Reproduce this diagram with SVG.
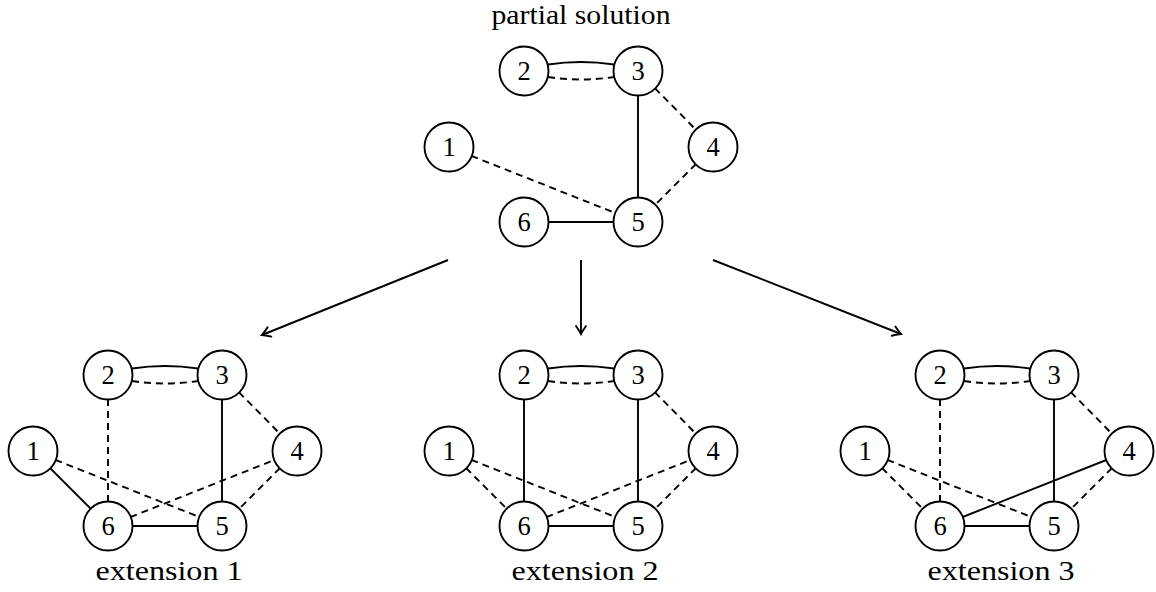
<svg xmlns="http://www.w3.org/2000/svg" width="1156" height="592" viewBox="0 0 1156 592">
<style>
.bg{fill:#fff}
.n circle{fill:#fff;stroke:#000;stroke-width:1.9}
.n text{font-family:"Liberation Serif","DejaVu Serif",serif;font-size:26.5px;fill:#000;text-anchor:middle}
.lbl{font-family:"Liberation Serif","DejaVu Serif",serif;font-size:27px;fill:#000;text-anchor:middle}
.s{stroke:#000;stroke-width:1.9;fill:none}
.d{stroke:#000;stroke-width:1.9;fill:none;stroke-dasharray:7 5}
.arr{stroke:#000;stroke-width:1.9;fill:none;marker-end:url(#ah)}
</style>
<defs>
<marker id="ah" markerUnits="userSpaceOnUse" markerWidth="16" markerHeight="16" viewBox="-10 -8 12 16" refX="0" refY="0" orient="auto">
<path d="M-8,-5 Q-2.5,-1.2 0,0 Q-2.5,1.2 -8,5" fill="none" stroke="#000" stroke-width="1.9" stroke-linecap="round"/>
</marker>
</defs>
<rect class="bg" x="0" y="0" width="1156" height="592"/>

<text class="lbl" x="581" y="24" textLength="179" lengthAdjust="spacingAndGlyphs">partial solution</text>
<text class="lbl" x="169" y="580" textLength="147" lengthAdjust="spacingAndGlyphs">extension 1</text>
<text class="lbl" x="585" y="580" textLength="147" lengthAdjust="spacingAndGlyphs">extension 2</text>
<text class="lbl" x="1001" y="580" textLength="147" lengthAdjust="spacingAndGlyphs">extension 3</text>

<g id="arrows">
<line class="arr" x1="448" y1="260" x2="262" y2="335"/>
<line class="arr" x1="581" y1="260" x2="581" y2="334"/>
<line class="arr" x1="713" y1="260" x2="901" y2="334"/>
</g>

<!-- partial solution -->
<g id="partial">
<g id="partial-edges">
<path class="s" d="M548,64.5 Q581,59.5 614,64.5"/>
<path class="d" d="M548,77 Q581,82 614,77"/>
<line class="s" x1="638" y1="71" x2="638" y2="222"/>
<line class="d" x1="638" y1="71" x2="713" y2="147"/>
<line class="d" x1="713" y1="147" x2="638" y2="222"/>
<line class="d" x1="449" y1="147" x2="638" y2="222"/>
<line class="s" x1="524" y1="222" x2="638" y2="222"/>
</g>
<g id="p-n1" class="n"><circle cx="449" cy="147" r="24.5"/><text x="449" y="156">1</text></g>
<g id="p-n2" class="n"><circle cx="524" cy="71" r="24.5"/><text x="524" y="80">2</text></g>
<g id="p-n3" class="n"><circle cx="638" cy="71" r="24.5"/><text x="638" y="80">3</text></g>
<g id="p-n4" class="n"><circle cx="713" cy="147" r="24.5"/><text x="713" y="156">4</text></g>
<g id="p-n5" class="n"><circle cx="638" cy="222" r="24.5"/><text x="638" y="231">5</text></g>
<g id="p-n6" class="n"><circle cx="524" cy="222" r="24.5"/><text x="524" y="231">6</text></g>
</g>

<!-- extension 1 -->
<g id="ext1" transform="translate(-416,304)">
<g id="ext1-edges">
<path class="s" d="M548,64.5 Q581,59.5 614,64.5"/>
<path class="d" d="M548,77 Q581,82 614,77"/>
<line class="d" x1="524" y1="71" x2="524" y2="222"/>
<line class="s" x1="638" y1="71" x2="638" y2="222"/>
<line class="d" x1="638" y1="71" x2="713" y2="147"/>
<line class="d" x1="713" y1="147" x2="638" y2="222"/>
<line class="d" x1="449" y1="147" x2="638" y2="222"/>
<line class="s" x1="449" y1="147" x2="524" y2="222"/>
<line class="d" x1="524" y1="222" x2="713" y2="147"/>
<line class="s" x1="524" y1="222" x2="638" y2="222"/>
</g>
<g id="e1-n1" class="n"><circle cx="449" cy="147" r="24.5"/><text x="449" y="156">1</text></g>
<g id="e1-n2" class="n"><circle cx="524" cy="71" r="24.5"/><text x="524" y="80">2</text></g>
<g id="e1-n3" class="n"><circle cx="638" cy="71" r="24.5"/><text x="638" y="80">3</text></g>
<g id="e1-n4" class="n"><circle cx="713" cy="147" r="24.5"/><text x="713" y="156">4</text></g>
<g id="e1-n5" class="n"><circle cx="638" cy="222" r="24.5"/><text x="638" y="231">5</text></g>
<g id="e1-n6" class="n"><circle cx="524" cy="222" r="24.5"/><text x="524" y="231">6</text></g>
</g>

<!-- extension 2 -->
<g id="ext2" transform="translate(0,304)">
<g id="ext2-edges">
<path class="s" d="M548,64.5 Q581,59.5 614,64.5"/>
<path class="d" d="M548,77 Q581,82 614,77"/>
<line class="s" x1="524" y1="71" x2="524" y2="222"/>
<line class="s" x1="638" y1="71" x2="638" y2="222"/>
<line class="d" x1="638" y1="71" x2="713" y2="147"/>
<line class="d" x1="713" y1="147" x2="638" y2="222"/>
<line class="d" x1="449" y1="147" x2="638" y2="222"/>
<line class="d" x1="449" y1="147" x2="524" y2="222"/>
<line class="d" x1="524" y1="222" x2="713" y2="147"/>
<line class="s" x1="524" y1="222" x2="638" y2="222"/>
</g>
<g id="e2-n1" class="n"><circle cx="449" cy="147" r="24.5"/><text x="449" y="156">1</text></g>
<g id="e2-n2" class="n"><circle cx="524" cy="71" r="24.5"/><text x="524" y="80">2</text></g>
<g id="e2-n3" class="n"><circle cx="638" cy="71" r="24.5"/><text x="638" y="80">3</text></g>
<g id="e2-n4" class="n"><circle cx="713" cy="147" r="24.5"/><text x="713" y="156">4</text></g>
<g id="e2-n5" class="n"><circle cx="638" cy="222" r="24.5"/><text x="638" y="231">5</text></g>
<g id="e2-n6" class="n"><circle cx="524" cy="222" r="24.5"/><text x="524" y="231">6</text></g>
</g>

<!-- extension 3 -->
<g id="ext3" transform="translate(416,304)">
<g id="ext3-edges">
<path class="s" d="M548,64.5 Q581,59.5 614,64.5"/>
<path class="d" d="M548,77 Q581,82 614,77"/>
<line class="d" x1="524" y1="71" x2="524" y2="222"/>
<line class="s" x1="638" y1="71" x2="638" y2="222"/>
<line class="d" x1="638" y1="71" x2="713" y2="147"/>
<line class="d" x1="713" y1="147" x2="638" y2="222"/>
<line class="d" x1="449" y1="147" x2="638" y2="222"/>
<line class="d" x1="449" y1="147" x2="524" y2="222"/>
<line class="s" x1="524" y1="222" x2="713" y2="147"/>
<line class="s" x1="524" y1="222" x2="638" y2="222"/>
</g>
<g id="e3-n1" class="n"><circle cx="449" cy="147" r="24.5"/><text x="449" y="156">1</text></g>
<g id="e3-n2" class="n"><circle cx="524" cy="71" r="24.5"/><text x="524" y="80">2</text></g>
<g id="e3-n3" class="n"><circle cx="638" cy="71" r="24.5"/><text x="638" y="80">3</text></g>
<g id="e3-n4" class="n"><circle cx="713" cy="147" r="24.5"/><text x="713" y="156">4</text></g>
<g id="e3-n5" class="n"><circle cx="638" cy="222" r="24.5"/><text x="638" y="231">5</text></g>
<g id="e3-n6" class="n"><circle cx="524" cy="222" r="24.5"/><text x="524" y="231">6</text></g>
</g>
</svg>
